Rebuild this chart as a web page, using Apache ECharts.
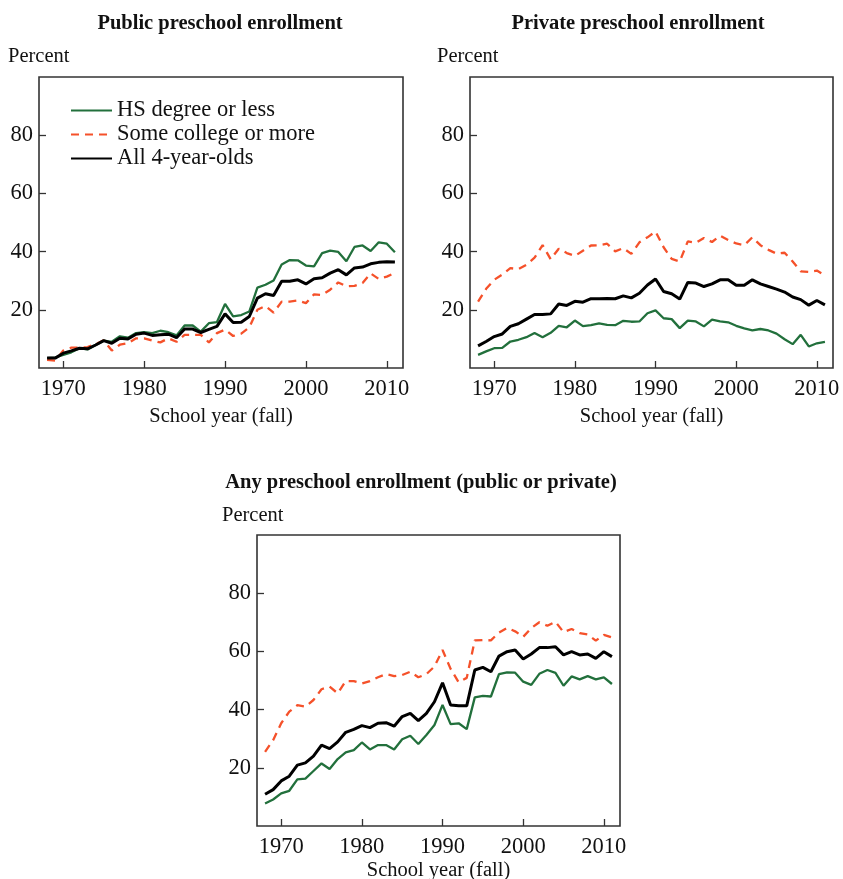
<!DOCTYPE html>
<html>
<head>
<meta charset="utf-8">
<script src="https://cdn.jsdelivr.net/npm/echarts@6/dist/echarts.min.js"></script>
<style>
html,body{margin:0;padding:0;background:#fff;}
#chart{width:843px;height:879px;}
</style>
</head>
<body>
<div id="chart"></div>
<script>
const years = [];
for (let y = 1968; y <= 2011; y++) years.push(y);
const xTicks = [1970, 1980, 1990, 2000, 2010];
const yTicks = [20, 40, 60, 80];
const seriesNames = ['HS degree or less', 'Some college or more', 'All 4-year-olds'];
const panelTitles = ['Public preschool enrollment', 'Private preschool enrollment', 'Any preschool enrollment (public or private)'];

// Public
const publicHS = [3.4,3.6,4.5,5.4,6.8,6.4,7.9,9.4,9.0,10.9,10.4,12.0,12.3,12.0,12.8,12.3,11.2,14.6,14.6,12.5,15.4,15.8,22.0,17.7,18.2,19.4,27.6,28.6,30.1,35.6,37.1,37.0,35.2,34.9,39.5,40.3,39.9,36.7,41.6,42.1,40.2,43.2,42.7,39.8];
const publicCollege = [2.8,2.5,6.0,7.0,7.0,7.2,8.2,9.5,6.0,8.0,8.5,10.2,10.2,9.4,8.8,10.2,9.0,11.4,11.4,11.4,8.8,12.0,13.2,11.0,11.8,14.0,20.0,21.3,19.0,22.8,22.8,23.2,22.3,25.3,25.1,26.9,29.4,28.1,28.2,29.2,32.5,30.6,31.4,32.7];
const publicAll = [3.4,3.4,5.1,5.9,6.8,6.6,7.9,9.4,8.5,10.2,10.0,11.6,12.0,11.2,11.4,11.6,10.4,13.4,13.4,12.2,13.3,14.3,18.6,15.6,15.7,17.7,24.0,25.5,24.9,29.8,29.8,30.3,28.9,30.7,31.0,32.6,33.8,32.0,34.4,34.7,35.8,36.3,36.5,36.4];

// Private
const privateHS = [4.5,5.7,6.8,6.9,9.1,9.7,10.6,12.0,10.6,12.1,14.5,14.0,16.3,14.4,14.7,15.3,14.8,14.7,16.2,15.9,16.0,18.8,19.8,17.1,16.8,13.7,16.3,16.0,14.3,16.6,16.0,15.7,14.5,13.6,12.9,13.4,12.9,11.8,9.9,8.2,11.4,7.4,8.5,9.0];
const privateCollege = [22.8,27.2,30.3,32.1,34.3,34.0,35.5,37.9,42.2,37.4,41.0,39.5,38.5,40.3,42.1,42.2,42.7,40.1,41.2,39.2,43.2,44.9,46.9,41.5,37.5,36.6,43.5,43.0,44.7,43.3,45.5,44.0,42.8,42.2,44.9,42.2,40.6,39.3,39.6,36.6,33.2,33.0,33.5,31.8];
const privateAll = [7.6,9.1,10.8,11.7,14.3,15.2,16.8,18.4,18.4,18.6,22.0,21.5,22.9,22.6,23.8,23.8,23.9,23.8,24.8,24.1,25.7,28.5,30.6,26.3,25.5,23.7,29.4,29.2,28.0,28.9,30.3,30.3,28.4,28.4,30.3,28.9,28.0,27.1,26.1,24.4,23.5,21.6,23.2,21.7];

// Any
const anyHS = [7.7,9.1,11.2,12.1,16.0,16.3,18.9,21.5,19.6,23.0,25.3,26.1,28.7,26.3,27.8,27.8,26.3,29.8,31.0,28.2,31.3,34.7,41.6,35.0,35.3,33.3,44.2,44.7,44.5,52.2,52.8,52.7,49.6,48.5,52.3,53.6,52.6,48.2,51.4,50.4,51.5,50.4,51.1,48.8];
const anyCollege = [25.5,29.5,35.3,39.3,41.5,41.0,43.3,47.0,47.9,45.6,49.8,49.8,49.0,49.8,51.1,52.2,51.5,51.9,53.0,51.1,52.2,54.8,60.5,54.0,49.4,50.9,63.8,63.9,63.8,66.5,68.1,66.9,65.0,68.0,70.0,68.8,70.2,66.6,67.7,66.3,65.8,63.7,65.7,64.8];
const anyAll = [10.9,12.5,15.5,17.1,20.9,21.7,24.0,27.8,26.6,28.9,32.2,33.2,34.5,33.8,35.3,35.5,34.3,37.6,38.7,36.2,38.7,42.7,49.2,41.6,41.3,41.3,53.6,54.5,53.0,58.4,59.9,60.5,57.4,59.1,61.3,61.3,61.6,58.8,59.9,58.8,59.1,57.6,59.9,58.2];

const GREEN = '#22703c';
const ORANGE = '#f5512a';
const BLACK = '#000000';
const FONT = '"Liberation Serif", "DejaVu Serif", serif';

const panels = [
  {hs: publicHS, col: publicCollege, all: publicAll, grid: {left: 39, top: 77, width: 364, height: 291}, margin: 10, nameGap: 38},
  {hs: privateHS, col: privateCollege, all: privateAll, grid: {left: 470, top: 77, width: 363, height: 291}, margin: 10, nameGap: 38},
  {hs: anyHS, col: anyCollege, all: anyAll, grid: {left: 257, top: 535, width: 363, height: 291}, margin: 10, nameGap: 34}
];

const grids = [], xAxes = [], yAxes = [], series = [];
panels.forEach((p, i) => {
  grids.push(Object.assign({show: true, borderColor: '#333', borderWidth: 1.6, backgroundColor: 'transparent', containLabel: false, outerBoundsMode: 'none'}, p.grid));
  xAxes.push({
    type: 'value', gridIndex: i, min: 1967, max: 2012,
    axisLine: {show: false},
    splitLine: {show: false},
    axisTick: {show: true, inside: true, length: 7, lineStyle: {color: '#333', width: 1.3}, customValues: xTicks},
    axisLabel: {show: true, color: '#111', fontFamily: FONT, fontSize: 22.5, margin: p.margin, customValues: xTicks, formatter: v => String(v)},
    name: 'School year (fall)', nameLocation: 'middle', nameGap: p.nameGap,
    nameTextStyle: {color: '#111', fontFamily: FONT, fontSize: 20.5}
  });
  yAxes.push({
    type: 'value', gridIndex: i, min: 0, max: 100,
    axisLine: {show: false},
    splitLine: {show: false},
    axisTick: {show: true, inside: true, length: 7, lineStyle: {color: '#333', width: 1.3}, customValues: yTicks},
    axisLabel: {show: true, color: '#111', fontFamily: FONT, fontSize: 22.5, margin: 6, customValues: yTicks}
  });
  const mk = (name, arr, color, width, type, z) => ({
    name: name, type: 'line', xAxisIndex: i, yAxisIndex: i,
    data: years.map((y, k) => [y, arr[k]]),
    showSymbol: false, symbol: 'none', z: z,
    lineStyle: {color: color, width: width, type: type, dashOffset: 0},
    itemStyle: {color: color},
    animation: false
  });
  series.push(mk(seriesNames[0], p.hs, GREEN, 2.3, 'solid', 2));
  series.push(mk(seriesNames[1], p.col, ORANGE, 2.3, [8, 6], 3));
  series.push(mk(seriesNames[2], p.all, BLACK, 3, 'solid', 4));
});

const txt = (x, y, s, bold, align) => ({
  type: 'text', x: x, y: y,
  style: {text: s, fill: '#111', font: (bold ? 'bold ' : '') + '20.5px ' + FONT, textAlign: align || 'left', textVerticalAlign: 'middle'}
});

const chart = echarts.init(document.getElementById('chart'), null, {renderer: 'canvas'});
chart.setOption({
  animation: false,
  backgroundColor: '#fff',
  grid: grids,
  xAxis: xAxes,
  yAxis: yAxes,
  series: series,
  legend: {
    left: 70, top: 99, orient: 'vertical', padding: 0,
    itemWidth: 41, itemHeight: 14, itemGap: 1,
    data: seriesNames,
    itemStyle: {opacity: 0},
    textStyle: {color: '#111', fontFamily: FONT, fontSize: 22.5},
    selectedMode: false
  },
  graphic: [
    txt(220, 24, panelTitles[0], true, 'center'),
    txt(638, 24, panelTitles[1], true, 'center'),
    txt(421, 483, panelTitles[2], true, 'center'),
    txt(8, 57, 'Percent', false),
    txt(437, 57, 'Percent', false),
    txt(222, 516, 'Percent', false)
  ]
});
</script>
</body>
</html>
